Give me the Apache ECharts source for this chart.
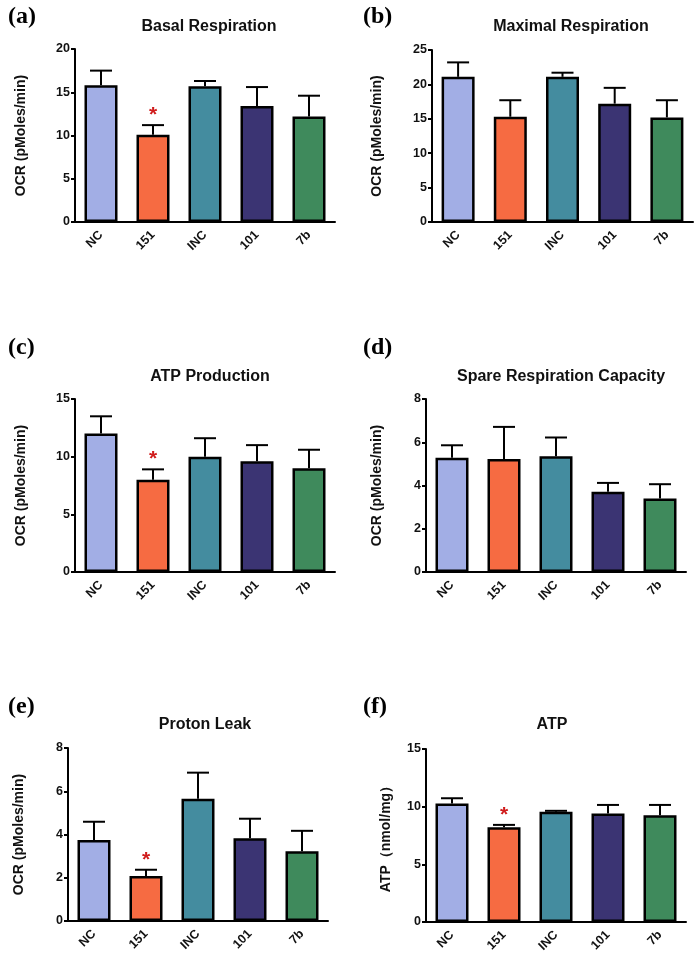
<!DOCTYPE html>
<html>
<head>
<meta charset="utf-8">
<script src="https://cdn.jsdelivr.net/npm/echarts@6/dist/echarts.min.js"></script>
<style>
  html, body { margin: 0; padding: 0; background: #fff; }
  #chart { width: 697px; height: 959px; }
</style>
</head>
<body>
<div id="chart"></div>
<script>
// groups on the x axis
const categories = ['NC', '151', 'INC', '101', '7b'];
const barColors = ['#a2aee5', '#f66b42', '#448c9f', '#3b3473', '#3f8a5c'];

// mean values and upper error (SEM)
const basalMean = [15.8, 10.1, 15.7, 13.4, 12.2];
const basalErr = [1.7, 1.1, 0.6, 2.2, 2.4];
const maximalMean = [21.1, 15.3, 21.1, 17.2, 15.2];
const maximalErr = [2.1, 2.4, 0.6, 2.3, 2.5];
const atpProdMean = [12.0, 8.0, 10.0, 9.6, 9.0];
const atpProdErr = [1.5, 0.9, 1.6, 1.4, 1.6];
const spareMean = [5.28, 5.23, 5.35, 3.71, 3.40];
const spareErr = [0.58, 1.48, 0.87, 0.41, 0.66];
const protonMean = [3.74, 2.08, 5.65, 3.83, 3.23];
const protonErr = [0.85, 0.29, 1.21, 0.90, 0.94];
const atpMean = [10.27, 8.22, 9.55, 9.40, 9.26];
const atpErr = [0.46, 0.20, 0.09, 0.75, 0.89];

// significance marks (1 = red star)
const starsA = [0, 1, 0, 0, 0];
const starsB = [0, 0, 0, 0, 0];
const starsC = [0, 1, 0, 0, 0];
const starsD = [0, 0, 0, 0, 0];
const starsE = [0, 1, 0, 0, 0];
const starsF = [0, 1, 0, 0, 0];

// y axis ticks
const yMaxA = 20, yStepA = 5;
const yMaxB = 25, yStepB = 5;
const yMaxC = 15, yStepC = 5;
const yMaxD = 8, yStepD = 2;
const yMaxE = 8, yStepE = 2;
const yMaxF = 15, yStepF = 5;

const panels = [
  { tag: '(a)', title: 'Basal Respiration', yName: 'OCR (pMoles/min)', mean: basalMean, err: basalErr, stars: starsA, max: yMaxA, step: yStepA,
    grid: { left: 75, top: 49, width: 260, height: 173 }, nameGap: 47, titleX: 204, titleY: 14, tagX: 3, tagY: 0 },
  { tag: '(b)', title: 'Maximal Respiration', yName: 'OCR (pMoles/min)', mean: maximalMean, err: maximalErr, stars: starsB, max: yMaxB, step: yStepB,
    grid: { left: 432, top: 50, width: 261, height: 172 }, nameGap: 48, titleX: 566, titleY: 14, tagX: 358, tagY: 0 },
  { tag: '(c)', title: 'ATP Production', yName: 'OCR (pMoles/min)', mean: atpProdMean, err: atpProdErr, stars: starsC, max: yMaxC, step: yStepC,
    grid: { left: 75, top: 399, width: 260, height: 173 }, nameGap: 47, titleX: 205, titleY: 364, tagX: 3, tagY: 331 },
  { tag: '(d)', title: 'Spare Respiration Capacity', yName: 'OCR (pMoles/min)', mean: spareMean, err: spareErr, stars: starsD, max: yMaxD, step: yStepD,
    grid: { left: 426, top: 399, width: 260, height: 173 }, nameGap: 42, titleX: 556, titleY: 364, tagX: 358, tagY: 331 },
  { tag: '(e)', title: 'Proton Leak', yName: 'OCR (pMoles/min)', mean: protonMean, err: protonErr, stars: starsE, max: yMaxE, step: yStepE,
    grid: { left: 68, top: 748, width: 260, height: 173 }, nameGap: 42, titleX: 200, titleY: 712, tagX: 3, tagY: 690 },
  { tag: '(f)', title: 'ATP', yName: 'ATP（nmol/mg）', mean: atpMean, err: atpErr, stars: starsF, max: yMaxF, step: yStepF,
    grid: { left: 426, top: 749, width: 260, height: 173 }, nameGap: 33, titleX: 547, titleY: 712, tagX: 358, tagY: 690 }
];

const font = "'Liberation Sans', Arial, sans-serif";

const option = {
  animation: false,
  backgroundColor: '#fff',
  title: [],
  grid: [],
  xAxis: [],
  yAxis: [],
  series: []
};

panels.forEach((p, k) => {
  option.grid.push(p.grid);
  option.title.push({
    text: p.title, left: p.titleX, top: p.titleY, textAlign: 'center',
    textStyle: { fontFamily: font, fontWeight: 'bold', fontSize: 16, color: '#111' }
  });
  option.title.push({
    text: p.tag, left: p.tagX, top: p.tagY,
    textStyle: { fontFamily: "'Liberation Serif', 'Times New Roman', serif", fontWeight: 'bold', fontSize: 24, color: '#000' }
  });
  option.xAxis.push({
    type: 'category',
    gridIndex: k,
    data: categories,
    axisLine: { lineStyle: { color: '#000', width: 2 } },
    axisTick: { alignWithLabel: true, length: 5, lineStyle: { color: '#000', width: 2 } },
    axisLabel: { rotate: 45, margin: 11, color: '#111', fontFamily: font, fontWeight: 'bold', fontSize: 12.5 }
  });
  option.yAxis.push({
    type: 'value',
    gridIndex: k,
    min: 0,
    max: p.max,
    interval: p.step,
    name: p.yName,
    nameLocation: 'middle',
    nameGap: p.nameGap,
    nameTextStyle: { fontFamily: font, fontWeight: 'bold', fontSize: 14, color: '#111' },
    axisLine: { show: true, lineStyle: { color: '#000', width: 2 } },
    axisTick: { show: true, length: 4, lineStyle: { color: '#000', width: 2 } },
    axisLabel: { margin: 5, color: '#111', fontFamily: font, fontWeight: 'bold', fontSize: 12.5 },
    splitLine: { show: false }
  });
  option.series.push({
    type: 'bar',
    xAxisIndex: k,
    yAxisIndex: k,
    barWidth: 33,
    data: p.mean.map((v, i) => ({
      value: v,
      itemStyle: { color: barColors[i], borderColor: '#000', borderWidth: 2.5 }
    })),
    z: 2
  });
  option.series.push({
    type: 'custom',
    xAxisIndex: k,
    yAxisIndex: k,
    z: 3,
    data: p.mean.map((v, i) => [i, v, p.err[i], p.stars[i]]),
    renderItem: function (params, api) {
      const i = api.value(0), m = api.value(1), e = api.value(2), s = api.value(3);
      const base = api.coord([i, m]);
      const top = api.coord([i, m + e]);
      const children = [
        { type: 'line', shape: { x1: base[0], y1: base[1], x2: top[0], y2: top[1] }, style: { stroke: '#000', lineWidth: 2 } },
        { type: 'line', shape: { x1: top[0] - 11, y1: top[1], x2: top[0] + 11, y2: top[1] }, style: { stroke: '#000', lineWidth: 2 } }
      ];
      if (s) {
        children.push({
          type: 'text', x: top[0], y: top[1] - 10,
          style: { text: '*', fill: '#d01c1c', font: 'bold 21px ' + font, align: 'center', verticalAlign: 'middle' }
        });
      }
      return { type: 'group', children: children };
    }
  });
});

const chart = echarts.init(document.getElementById('chart'));
chart.setOption(option);
</script>
</body>
</html>
